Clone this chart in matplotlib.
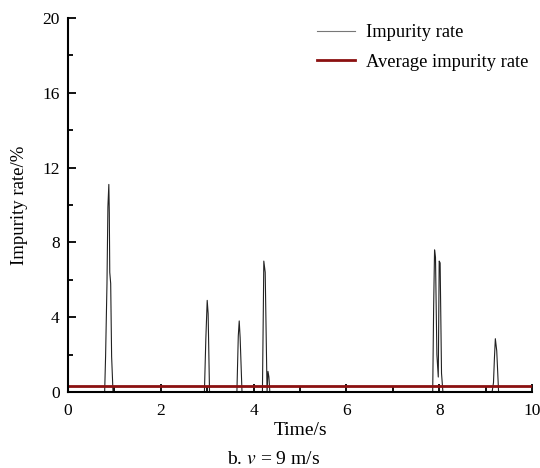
import matplotlib
matplotlib.use('Agg')
import matplotlib.pyplot as plt
import numpy as np

# -------------------------- Data --------------------------
# Time points (s) and impurity rate (%) for the spiky trace
time_s = [0.00, 0.79, 0.81, 0.84, 0.86, 0.88, 0.89, 0.90, 0.92, 0.94, 0.97, 0.99,
          2.94, 2.97, 3.00, 3.02, 3.05,
          3.64, 3.67, 3.69, 3.71, 3.75,
          4.19, 4.21, 4.22, 4.25, 4.29, 4.31, 4.33, 4.35, 4.39,
          7.86, 7.88, 7.90, 7.92, 7.95, 7.98, 8.00, 8.02, 8.05, 8.08,
          9.14, 9.17, 9.19, 9.21, 9.24, 9.28,
          10.00]
impurity = [0.0, 0.0, 1.9, 5.8, 9.9, 11.1, 9.6, 6.4, 5.8, 1.9, 0.0, 0.0,
            0.0, 2.8, 4.9, 4.2, 0.0,
            0.0, 3.0, 3.8, 2.9, 0.0,
            0.0, 4.5, 7.0, 6.4, 0.0, 1.1, 0.8, 0.0, 0.0,
            0.0, 4.5, 7.6, 7.2, 2.0, 0.8, 7.0, 6.9, 1.0, 0.0,
            0.0, 0.5, 1.8, 2.85, 2.2, 0.0,
            0.0]
avg_impurity = 0.32

x_ticks = [0, 2, 4, 6, 8, 10]
y_ticks = [0, 4, 8, 12, 16, 20]

# -------------------------- Plot --------------------------
plt.rcParams['font.family'] = ['Liberation Serif', 'DejaVu Serif']
plt.rcParams['mathtext.fontset'] = 'stix'
plt.rcParams['xtick.direction'] = 'in'
plt.rcParams['ytick.direction'] = 'in'

W, H = 540, 468
fig = plt.figure(figsize=(5.4, 4.68), dpi=100)
ax = fig.add_axes([68 / W, 76 / H, 464 / W, 374 / H])

ax.plot(time_s, impurity, color='#222222', linewidth=0.8, label='Impurity rate')
ax.axhline(avg_impurity, color='#8b1010', linewidth=2.0, label='Average impurity rate')

ax.set_xlim(0, 10)
ax.set_ylim(0, 20)
ax.set_xticks(x_ticks)
ax.set_yticks(y_ticks)
ax.set_xticks(np.arange(1, 10, 2), minor=True)
ax.set_yticks(np.arange(2, 20, 4), minor=True)
ax.tick_params(which='major', length=6, width=1.3, labelsize=12.5)
ax.tick_params(axis='x', which='major', pad=8)
ax.tick_params(axis='y', which='major', pad=6)
ax.tick_params(which='minor', length=3.5, width=1.3)

for side in ['top', 'right']:
    ax.spines[side].set_visible(False)
for side in ['left', 'bottom']:
    ax.spines[side].set_linewidth(1.5)

ax.set_xlabel('Time/s', fontsize=14, labelpad=2)
ax.set_ylabel('Impurity rate/%', fontsize=13.5, labelpad=10)

leg = ax.legend(loc='upper left', bbox_to_anchor=(317 / W, 1 - 24 / H),
                bbox_transform=fig.transFigure, frameon=False, fontsize=13.3,
                handlelength=2.05, handletextpad=0.6, borderpad=0,
                borderaxespad=0, labelspacing=0.69)
leg.get_lines()[0].set_color('#777777')

fig.text(274 / W, 9 / H, r'b. $v$ = 9 m/s', ha='center', va='center', fontsize=14)

plt.savefig('out.png', dpi=100)
